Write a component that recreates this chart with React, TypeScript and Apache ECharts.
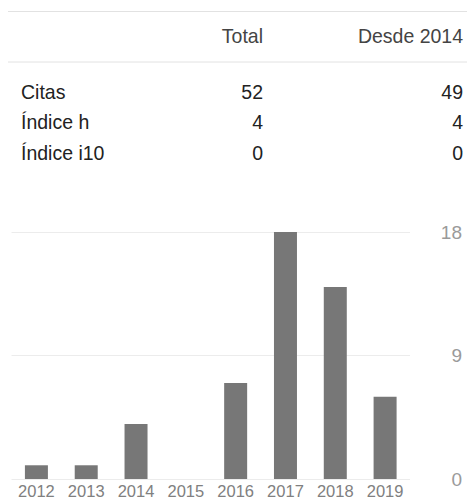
import React, { useEffect, useRef } from "react";
import * as echarts from "echarts";

const years = ["2012", "2013", "2014", "2015", "2016", "2017", "2018", "2019"];
const citations = [1, 1, 4, 0, 7, 18, 14, 6];
const yTicks = { min: 0, max: 18, interval: 9 };

const headerLabels = ["Total", "Desde 2014"];
const rowLabels = ["Citas", "Índice h", "Índice i10"];
const totalValues = ["52", "4", "0"];
const sinceValues = ["49", "4", "0"];

const FONT = "Arial, 'Liberation Sans', sans-serif";

export default function App() {
  const ref = useRef<HTMLDivElement>(null);
  useEffect(() => {
    if (!ref.current) return;
    const chart = echarts.init(ref.current, null, { renderer: "svg" });
    const rowY = [91.5, 122, 152.5];
    const txt = (s: string, x: number, y: number, align: string, fill: string) => ({
      type: "text",
      x,
      y,
      scaleY: 1.08,
      originY: 0,
      style: { text: s, textAlign: align, textVerticalAlign: "middle", font: `19.5px ${FONT}`, fill },
    });
    const graphics: any[] = [
      { type: "line", shape: { x1: 8, y1: 11.5, x2: 467, y2: 11.5 }, style: { stroke: "#e2e2e2", lineWidth: 1 } },
      { type: "line", shape: { x1: 8, y1: 62, x2: 467, y2: 62 }, style: { stroke: "#e2e2e2", lineWidth: 1 } },
      txt(headerLabels[0], 263, 36, "right", "#444"),
      txt(headerLabels[1], 463, 36, "right", "#444"),
    ];
    rowLabels.forEach((label, i) => {
      graphics.push(txt(label, 21, rowY[i], "left", "#222"));
      graphics.push(txt(totalValues[i], 263, rowY[i], "right", "#222"));
      graphics.push(txt(sinceValues[i], 463, rowY[i], "right", "#222"));
    });
    chart.setOption({
      animation: false,
      grid: { left: 11.5, top: 232, width: 398.5, height: 248, containLabel: false },
      xAxis: {
        type: "category",
        data: years,
        axisLine: { show: false },
        axisTick: { show: false },
        axisLabel: { color: "#808080", fontSize: 16.5, fontFamily: FONT, margin: 3, interval: 0 },
      },
      yAxis: {
        type: "value",
        position: "right",
        min: yTicks.min,
        max: yTicks.max,
        interval: yTicks.interval,
        axisLine: { show: false },
        axisTick: { show: false },
        splitLine: { lineStyle: { color: "#ececec", width: 1 } },
        axisLabel: { color: "#9a9a9a", fontSize: 19, fontFamily: FONT, align: "right", margin: 52 },
      },
      series: [
        {
          type: "bar",
          data: citations,
          barWidth: 23,
          itemStyle: { color: "#777777" },
        },
      ],
      graphic: graphics,
    });
    return () => chart.dispose();
  }, []);
  return (
    <div
      ref={ref}
      style={{ position: "fixed", left: 0, top: 0, width: 467, height: 499, background: "#fff" }}
    />
  );
}
